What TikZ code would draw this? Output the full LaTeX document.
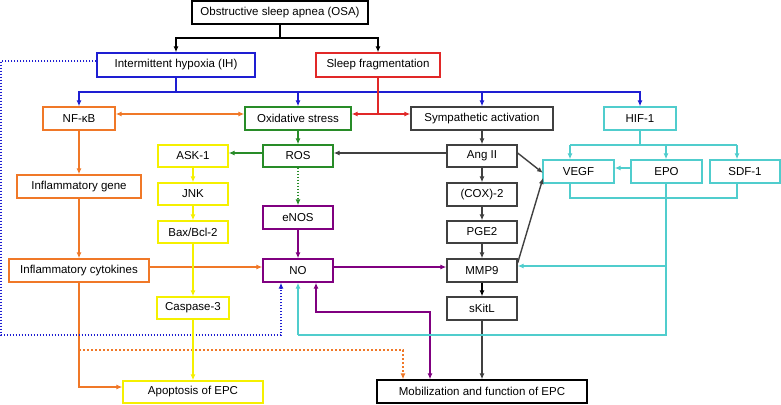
\documentclass[tikz,border=0pt]{standalone}
\usepackage{fontspec}
\setmainfont{Liberation Sans}
\usetikzlibrary{arrows.meta}
\definecolor{cblue}{RGB}{30,30,210}
\definecolor{cred}{RGB}{225,40,40}
\definecolor{corange}{RGB}{240,120,40}
\definecolor{cgreen}{RGB}{40,140,40}
\definecolor{cdark}{RGB}{64,64,64}
\definecolor{cyel}{RGB}{245,240,0}
\definecolor{cpurp}{RGB}{128,0,128}
\definecolor{ccyan}{RGB}{80,205,205}
\begin{document}
\begin{tikzpicture}[x=1pt,y=-1pt,
 font=\fontsize{11.5}{13}\selectfont,
 box/.style={draw=#1, line width=1.3pt, fill=white, inner sep=0pt, minimum height=23pt},
 ln/.style={line width=1.4pt},
 ar/.style={line width=1.4pt, -{Latex[length=6pt,width=5pt]}},
 dar/.style={line width=1.4pt, {Latex[length=6pt,width=5pt]}-{Latex[length=6pt,width=5pt]}},
 dots/.style={dash pattern=on 1.5pt off 1.5pt},
 odots/.style={dash pattern=on 2pt off 2pt}]
\useasboundingbox (0,0) rectangle (781,404);
% nodes
\node[box=black, minimum width=176pt] (osa) at (280,12.5) {Obstructive sleep apnea (OSA)};
\node[box=cblue, minimum width=158pt, minimum height=24pt] (ih) at (176,65) {Intermittent hypoxia (IH)};
\node[box=cred, minimum width=124pt, minimum height=24pt] (sf) at (378,65) {Sleep fragmentation};
\node[box=corange, minimum width=72pt] (nfkb) at (79,118.5) {NF-κB};
\node[box=cgreen, minimum width=106pt] (ox) at (298,118.5) {Oxidative stress};
\node[box=cdark, minimum width=142pt] (symp) at (482,118.5) {Sympathetic activation};
\node[box=ccyan, minimum width=72pt] (hif) at (640,118.5) {HIF-1};
\node[box=cyel, minimum width=70pt, minimum height=22pt] (ask) at (193,156) {ASK-1};
\node[box=cgreen, minimum width=70pt, minimum height=22pt] (ros) at (298,156) {ROS};
\node[box=cdark, minimum width=70pt, minimum height=22pt] (ang) at (482,156) {Ang II};
\node[box=ccyan, minimum width=71pt] (vegf) at (578.5,171.5) {VEGF};
\node[box=ccyan, minimum width=71pt] (epo) at (666.5,171.5) {EPO};
\node[box=ccyan, minimum width=70pt] (sdf) at (745,171.5) {SDF-1};
\node[box=corange, minimum width=124pt] (gene) at (79,186.5) {Inflammatory gene};
\node[box=cyel, minimum width=70pt, minimum height=22pt] (jnk) at (193,194) {JNK};
\node[box=cdark, minimum width=70pt] (cox) at (482,194.5) {(COX)-2};
\node[box=cpurp, minimum width=70pt] (enos) at (298,217.5) {eNOS};
\node[box=cyel, minimum width=70pt, minimum height=22pt] (bax) at (193,232) {Bax/Bcl-2};
\node[box=cdark, minimum width=70pt, minimum height=22pt] (pge) at (482,232) {PGE2};
\node[box=corange, minimum width=140pt] (cyt) at (79,270.5) {Inflammatory cytokines};
\node[box=cpurp, minimum width=70pt] (no) at (298,270.5) {NO};
\node[box=cdark, minimum width=70pt] (mmp) at (482,270.5) {MMP9};
\node[box=cyel, minimum width=72pt, minimum height=22pt] (casp) at (193,308) {Caspase-3};
\node[box=cdark, minimum width=70pt] (skitl) at (482,308.5) {sKitL};
\node[box=cyel, minimum width=140pt, minimum height=22pt] (apop) at (193,392) {Apoptosis of EPC};
\node[box=black, minimum width=210pt] (mob) at (482,391.5) {Mobilization and function of EPC};
% black
\coordinate (j1) at (280,38);
\draw[ln] (osa.south) -- (j1);
\draw[ar] (j1) -| (ih.north);
\draw[ar] (j1) -| (sf.north);
% blue
\coordinate (j2) at (176,92);
\draw[ln,cblue] (ih.south) -- (j2);
\draw[ar,cblue] (j2) -| (nfkb.north);
\draw[ar,cblue] (j2) -| (ox.north);
\draw[ar,cblue] (j2) -| (symp.north);
\draw[ar,cblue] (j2) -| (hif.north);
% red
\coordinate (j3) at (378,114);
\draw[ln,cred] (sf.south) -- (j3);
\draw[ar,cred] (j3) -- (ox.east|-j3);
\draw[ar,cred] (j3) -- (symp.west|-j3);
% orange
\draw[dar,corange] (nfkb.east|-j3) -- (ox.west|-j3);
\draw[ar,corange] (nfkb.south) -- (gene.north);
\draw[ar,corange] (gene.south) -- (cyt.north);
\coordinate (h1) at (0,267);
\draw[ar,corange] (cyt.east|-h1) -- (no.west|-h1);
\coordinate (o1) at (79,387);
\draw[ar,corange] (cyt.south) -- (o1) -- (apop.west|-o1);
\coordinate (o2) at (79,350);
\coordinate (o3) at (403,350);
\draw[ar,corange,odots] (o2) -- (o3) -- (o3|-mob.north);
% blue dotted
\coordinate (d1) at (1,61);
\coordinate (d2) at (1,335);
\coordinate (d3) at (281,335);
\draw[ar,cblue,dots] (ih.west|-d1) -- (d1) -- (d2) -- (d3) -- (d3|-no.south);
% green
\draw[ar,cgreen] (ox.south) -- (ros.north);
\coordinate (h2) at (0,153);
\draw[ar,cgreen] (ros.west|-h2) -- (ask.east|-h2);
\draw[ar,cgreen,dots] (ros.south) -- (enos.north);
% yellow
\draw[ar,cyel] (ask.south) -- (jnk.north);
\draw[ar,cyel] (jnk.south) -- (bax.north);
\draw[ar,cyel] (bax.south) -- (casp.north);
\draw[ar,cyel] (casp.south) -- (apop.north);
% dark
\draw[ar,cdark] (symp.south) -- (ang.north);
\draw[ar,cdark] (ang.west|-h2) -- (ros.east|-h2);
\draw[ar,cdark] (ang.south) -- (cox.north);
\draw[ar,cdark] (cox.south) -- (pge.north);
\draw[ar,cdark] (pge.south) -- (mmp.north);
\draw[ar,black] (mmp.south) -- (skitl.north);
\draw[ar,cdark] (skitl.south) -- (mob.north);
\coordinate (v1) at (543,173);
\coordinate (v2) at (543,178);
\coordinate (h3) at (0,263);
\draw[ar,cdark] (ang.east|-h2) -- (v1);
\draw[ar,cdark] (mmp.east|-h3) -- (v2);
% purple
\draw[ar,cpurp] (enos.south) -- (no.north);
\draw[ar,cpurp] (no.east|-h1) -- (mmp.west|-h1);
\coordinate (p1) at (430,312);
\coordinate (p2) at (316,312);
\draw[dar,cpurp] (p1|-mob.north) -- (p1) -- (p2) -- (p2|-no.south);
% cyan
\coordinate (c0) at (640,145);
\coordinate (c1) at (570,145);
\coordinate (c2) at (666,145);
\coordinate (c3) at (737,145);
\draw[ln,ccyan] (hif.south) -- (c0);
\draw[ln,ccyan] (c1) -- (c3);
\draw[ar,ccyan] (c1) -- (c1|-vegf.north);
\draw[ar,ccyan] (c2) -- (c2|-epo.north);
\draw[ar,ccyan] (c3) -- (c3|-sdf.north);
\coordinate (c4) at (0,168);
\draw[ar,ccyan] (epo.west|-c4) -- (vegf.east|-c4);
\coordinate (c5) at (570,198);
\coordinate (c6) at (737,198);
\draw[ln,ccyan] (c5|-vegf.south) -- (c5) -- (c6) -- (c6|-sdf.south);
\coordinate (c7) at (666,266);
\coordinate (c8) at (666,335);
\coordinate (c9) at (298,335);
\draw[ln,ccyan] (c2|-epo.south) -- (c8) -- (c9);
\draw[ar,ccyan] (c9) -- (c9|-no.south);
\draw[ar,ccyan] (c7) -- (mmp.east|-c7);
\end{tikzpicture}
\end{document}
